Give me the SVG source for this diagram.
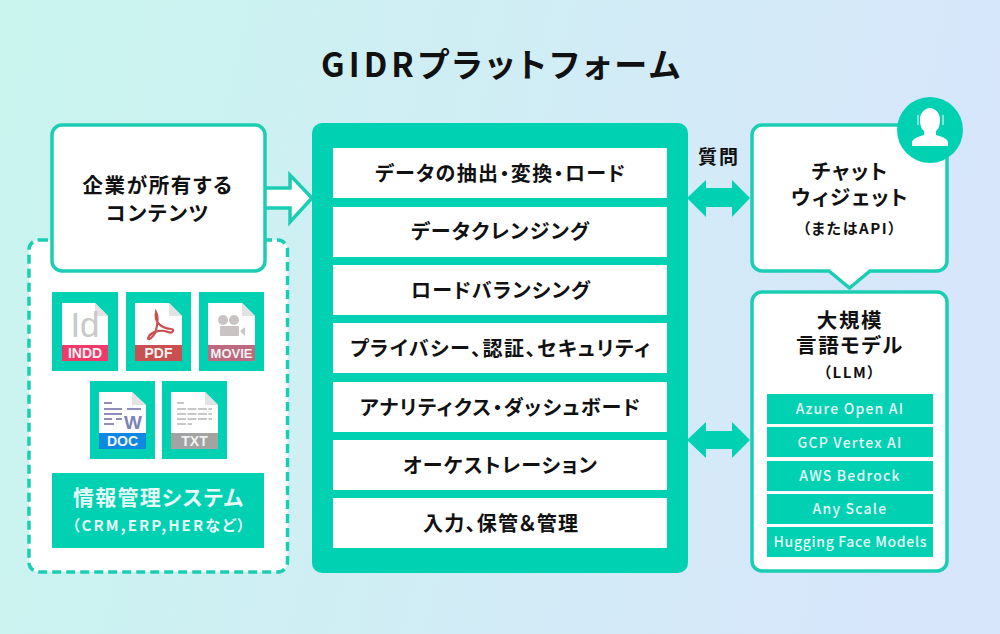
<svg xmlns="http://www.w3.org/2000/svg" width="1000" height="634" viewBox="0 0 1000 634">
<defs>
<linearGradient id="bg" x1="0" y1="0" x2="1" y2="0.15"><stop offset="0" stop-color="#c9f5ee"/><stop offset="1" stop-color="#d7e6fb"/></linearGradient>
</defs>
<style>
text{font-family:"Noto Sans CJK JP","Noto Sans",sans-serif;text-anchor:middle;font-feature-settings:"palt"}
.t{fill:#00d1b2}
.b{fill:#fff;stroke:#1bcdb2;stroke-width:3.5}
.h{font-size:20.5px;font-weight:700;fill:#111;letter-spacing:1.6px}
.s{font-size:15px;font-weight:700;fill:#111;letter-spacing:1.6px}
.r{font-size:20px;font-weight:700;fill:#111}
.w{font-size:14px;font-weight:500;fill:#e6fbf7;letter-spacing:1.2px}
.f{font-family:"Liberation Sans",sans-serif;font-size:14px;font-weight:700;fill:#f2f2f2}
.i{font-family:"Liberation Sans",sans-serif}
.p{fill:#fff}
.g{fill:#e2e2e2}
</style>
<rect width="1000" height="634" fill="url(#bg)"/>
<text x="500.500" y="77" font-size="33" font-weight="700" fill="#111" textLength="359" id="title">GIDRプラットフォーム</text>

<g id="sources">
<rect x="29" y="240" width="258.500" height="332" rx="10" fill="#fff" stroke="#1bcdb2" stroke-width="3.500" stroke-dasharray="9 5"/>
</g>

<g id="connectors">
<path d="M262 188H290V175L312 198L290 222V208H262Z" fill="#fff" stroke="#1bcdb2" stroke-width="3.500"/>
<path class="t" d="M687 198L706 180V188H732V180L750 198L732 217V207H706V217Z"/>
<path class="t" d="M687 440L706 422V431H732V422L750 440L732 458V449H706V458Z"/>
</g>

<g id="node-contents">
<rect class="b" x="52" y="125" width="213" height="146" rx="10"/>
<text class="h" x="158"><tspan x="158" y="192.500">企業が所有する</tspan><tspan x="158" y="221">コンテンツ</tspan></text>
</g>

<g id="file-indd">
<rect class="t" x="52" y="292" width="66" height="79"/>
<path class="p" d="M62 303H95L108 316V345H62Z"/><path class="g" d="M95 303L108 316H95Z"/>
<text class="i" x="85" y="337" font-size="35" fill="#c9c9c9">Id</text>
<rect x="62" y="345" width="46" height="16" fill="#f03a6c"/>
<text class="f" x="85" y="358">INDD</text>
</g>
<g id="file-pdf">
<rect class="t" x="126" y="292" width="65" height="79"/>
<path class="p" d="M135 303H169L182 316V345H135Z"/><path class="g" d="M169 303L182 316H169Z"/>
<path d="M156 312C154 321 160 328 171 329C175 329 173 334 168 332C160 329 152 332 149 336C146 341 151 340 155 333C157 328 159 318 156 312Z" fill="none" stroke="#c94f50" stroke-width="2.200"/>
<rect x="135" y="345" width="47" height="16" fill="#c94f50"/>
<text class="f" x="158.500" y="358">PDF</text>
</g>
<g id="file-movie">
<rect class="t" x="199" y="292" width="65" height="79"/>
<path class="p" d="M208 303H242L255 316V345H208Z"/><path class="g" d="M242 303L255 316H242Z"/>
<g fill="#c9c3c3"><circle cx="223" cy="320" r="5"/><circle cx="234" cy="320" r="5"/><rect x="220" y="326" width="19" height="10" rx="1"/><path d="M240 331L245 327V336Z"/></g>
<rect x="208" y="345" width="47" height="16" fill="#bd6a80"/>
<text class="f" x="231.500" y="358" style="font-size:13px">MOVIE</text>
</g>
<g id="file-doc">
<rect class="t" x="90" y="381" width="65" height="78"/>
<path class="p" d="M99 392H132L146 405V433H99Z"/><path class="g" d="M132 392L146 405H132Z"/>
<path d="M104 403H112M104 409H122M127 409H141M104 414H122M104 419H112M116 419H122M104 424H114" stroke="#8f8fbe" stroke-width="1.800" fill="none"/>
<text class="i" x="133" y="429" font-size="19" font-weight="700" fill="#7b82b8">W</text>
<rect x="99" y="433" width="47" height="16" fill="#0e88e0"/>
<text class="f" x="122.500" y="446">DOC</text>
</g>
<g id="file-txt">
<rect class="t" x="162" y="381" width="65" height="78"/>
<path class="p" d="M171 392H205L218 405V433H171Z"/><path class="g" d="M205 392L218 405H205Z"/>
<path d="M177 403H184M177 409H212M177 414H212M177 419H212M177 424H192" stroke="#b5b5b5" stroke-width="1.300" stroke-dasharray="9 1.500" fill="none"/>
<rect x="171" y="433" width="47" height="16" fill="#a3a3a3"/>
<text class="f" x="194.500" y="446">TXT</text>
</g>
<g id="info-system">
<rect class="t" x="52" y="473" width="212" height="75"/>
<text x="158" y="505" font-size="21" font-weight="700" fill="#e6fbf7" textLength="170">情報管理システム</text>
<text x="158.500" y="531" font-size="15" font-weight="700" fill="#e6fbf7" textLength="173">（CRM,ERP,HERなど）</text>
</g>

<g id="platform">
<rect class="t" x="312" y="123" width="376" height="450" rx="10"/>
<rect class="p" x="333" y="148" width="334" height="50"/><text class="r" x="500" y="181" textLength="250">データの抽出・変換・ロード</text>
<rect class="p" x="333" y="207" width="334" height="50"/><text class="r" x="500" y="239" textLength="178">データクレンジング</text>
<rect class="p" x="333" y="265" width="334" height="50"/><text class="r" x="500.500" y="298" textLength="179">ロードバランシング</text>
<rect class="p" x="333" y="323" width="334" height="50"/><text class="r" x="500" y="356" textLength="300">プライバシー、認証、セキュリティ</text>
<rect class="p" x="333" y="382" width="334" height="50"/><text class="r" x="500" y="414.500" textLength="280">アナリティクス・ダッシュボード</text>
<rect class="p" x="333" y="440" width="334" height="50"/><text class="r" x="500" y="473" textLength="194">オーケストレーション</text>
<rect class="p" x="333" y="498" width="334" height="50"/><text class="r" x="500.500" y="531" textLength="155">入力、保管＆管理</text>
</g>

<text x="719" y="164" font-size="19" font-weight="700" fill="#111" letter-spacing="2" id="question">質問</text>

<g id="chat">
<path class="b" d="M762 125H937A10 10 0 0 1 947 135V261A10 10 0 0 1 937 271H870L849.500 288L829 271H762A10 10 0 0 1 752 261V135A10 10 0 0 1 762 125Z"/>
<text class="h" x="850"><tspan x="850" y="179">チャット</tspan><tspan x="850" y="204.500">ウィジェット</tspan></text>
<text class="s" x="850" y="234">（またはAPI）</text>
<circle class="t" cx="930" cy="130" r="33"/>
<path class="p" d="M912 146V143C912 139 917 137 924 135V131C921 129 920 124 920 119C920 113 925 108 930 108C935 108 940 113 940 119C940 124 939 129 936 131V135C943 137 948 139 948 143V146Z"/>
<path d="M918 115V125M943 115V125" stroke="#fff" stroke-width="1" fill="none"/>
</g>

<g id="llm">
<rect class="b" x="752" y="292" width="195" height="279" rx="10"/>
<text class="h" x="850"><tspan x="850" y="328">大規模</tspan><tspan x="850" y="353">言語モデル</tspan></text>
<text class="s" x="850" y="378">（LLM）</text>
<rect class="t" x="767" y="394" width="166" height="30"/><text class="w" x="850" y="414">Azure Open AI</text>
<rect class="t" x="767" y="427" width="166" height="30"/><text class="w" x="850" y="448">GCP Vertex AI</text>
<rect class="t" x="767" y="461" width="166" height="30"/><text class="w" x="850" y="481">AWS Bedrock</text>
<rect class="t" x="767" y="494" width="166" height="30"/><text class="w" x="850" y="514">Any Scale</text>
<rect class="t" x="767" y="527" width="166" height="30"/><text class="w" x="850" y="547" textLength="153" style="letter-spacing:0">Hugging Face Models</text>
</g>
</svg>
